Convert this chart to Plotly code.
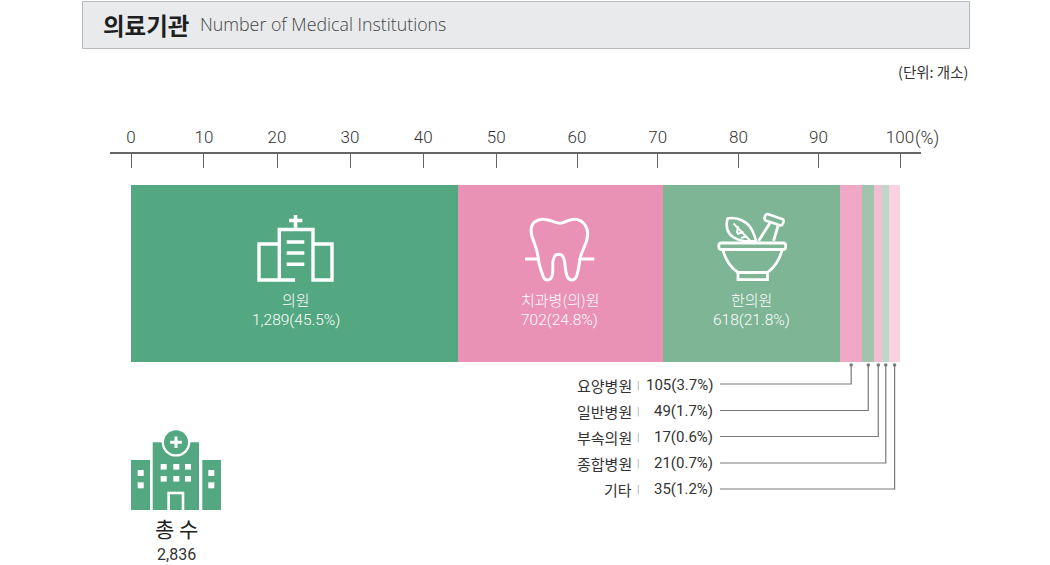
import plotly.graph_objects as go

# ---- data ----
SEGMENT_NAMES = ["의원", "치과병(의)원", "한의원", "요양병원", "일반병원", "부속의원", "종합병원", "기타"]
COUNTS = [1289, 702, 618, 105, 49, 17, 21, 35]
SHARES = [45.5, 24.8, 21.8, 3.7, 1.7, 0.6, 0.7, 1.2]
# drawn bar lengths as they sit against the printed scale (the source figure is not to scale)
DRAWN_LENGTHS = [42.5, 26.7, 23.0, 2.9, 1.55, 1.05, 0.9, 1.4]
SEGMENT_COLORS = ["#54A881", "#E992B5", "#7DB595", "#EFA8C5", "#A1C5AC", "#F3BDD3", "#BFD7C8", "#F8D2E1"]
TICK_LABELS = ["0", "10", "20", "30", "40", "50", "60", "70", "80", "90", "100"]
TICK_POSITIONS = [0, 9.49, 18.99, 28.48, 38.0, 47.5, 58.0, 68.5, 79.0, 89.4, 100]
TOTAL = "2,836"

W, H = 1050, 565
KR = "Noto Sans CJK KR"
NUM = "Roboto, Noto Sans CJK KR"
PX_PER_UNIT = 7.69
X0 = 131
AX_L, AX_R, AX_Y = 110, 921, 154
BAR_TOP, BAR_BOT = 185, 362


def unit(px):
    return (px - X0) / PX_PER_UNIT


fig = go.Figure()
for name, cnt, share, length, col in zip(SEGMENT_NAMES, COUNTS, SHARES, DRAWN_LENGTHS, SEGMENT_COLORS):
    fig.add_trace(go.Bar(
        x=[length], y=[(BAR_TOP + BAR_BOT) / 2 - AX_Y], width=[BAR_BOT - BAR_TOP], orientation="h",
        marker=dict(color=col, line=dict(width=0)), name=name,
        hovertemplate=f"{name}: {cnt:,} ({share}%)<extra></extra>",
    ))

# leader lines from the small segments to their labels
LEADER_Y = [384, 410.5, 436.5, 463, 489]
cum = 0
mids = []
for l in DRAWN_LENGTHS:
    mids.append(cum + l / 2)
    cum += l
for mid, ly in zip(mids[3:], LEADER_Y):
    fig.add_trace(go.Scatter(
        x=[mid, mid, unit(720)], y=[BAR_BOT + 3 - AX_Y, ly - AX_Y, ly - AX_Y], mode="lines",
        line=dict(color="#7A7A7A", width=1.2), hoverinfo="skip", showlegend=False, cliponaxis=False))
    fig.add_trace(go.Scatter(
        x=[mid], y=[BAR_BOT + 3 - AX_Y], mode="markers", marker=dict(color="#7A7A7A", size=3.5),
        hoverinfo="skip", showlegend=False, cliponaxis=False))

# invisible trace that activates a pixel-space layer for page furniture
fig.add_trace(go.Scatter(x=[0], y=[0], xaxis="x2", yaxis="y2", mode="markers", opacity=0,
                         hoverinfo="skip", showlegend=False))


def note(px, py, text, size=14, color="#333333", anchor="center", family=NUM, weight=None):
    fig.add_annotation(xref="x2", yref="y2", x=px, y=py, text=text, showarrow=False, xanchor=anchor,
                       yanchor="middle", font=dict(family=family, size=size, color=color, weight=weight))


note(100.5, 24.5, "의료기관", 23.5, "#1E1E1E", "left", KR, 700)
note(197.5, 24, "Number of Medical Institutions", 17.8, "#444444", "left", "Open Sans", 300)
note(970, 71, "(단위: 개소)", 14.5, "#333333", "right", KR, 400)
note(912.5, 138.5, "(%)", 17.5, "#333333", "left", NUM, 300)

for cx, i in [(296, 0), (559.5, 1), (751.5, 2)]:
    note(cx, 299.5, SEGMENT_NAMES[i], 15, "#FFFFFF", "center", KR, 300)
    note(cx, 320, f"{COUNTS[i]:,}({SHARES[i]}%)", 15.5, "#FFFFFF", "center", NUM, 300)

LABEL_Y = [385, 411, 437, 463, 489]
for i, ly in zip(range(3, 8), LABEL_Y):
    note(633.5, ly, SEGMENT_NAMES[i], 15, "#333333", "right", KR, 400)
    note(638, ly, "|", 11, "#888888", "center", NUM, 300)
    note(715, ly, f"{COUNTS[i]}({SHARES[i]}%)", 15, "#333333", "right", NUM, 400)

note(176, 528, "총 수", 21, "#222222", "center", KR, 400)
note(176, 554, TOTAL, 16, "#333333", "center", NUM, 400)


def shp(path, fill=None, line=None, w=0, layer="above"):
    fig.add_shape(type="path", path=path, xref="x2", yref="y2", layer=layer,
                  fillcolor=fill if fill else "rgba(0,0,0,0)",
                  line=dict(color=line if line else "rgba(0,0,0,0)", width=w))


def disc(cx, cy, r, fill):
    fig.add_shape(type="circle", xref="x2", yref="y2", x0=cx - r, x1=cx + r, y0=cy - r, y1=cy + r,
                  fillcolor=fill, line=dict(width=0), layer="above")


def square(x, y, w, h, fill):
    shp(f"M{x} {y} L{x + w} {y} L{x + w} {y + h} L{x} {y + h} Z", fill)


# header band
fig.add_shape(type="rect", xref="x2", yref="y2", x0=82.5, x1=969.5, y0=1.5, y1=48.5, fillcolor="#E9EAEC",
              line=dict(color="#B5B8BE", width=1), layer="below")

WHITE = "#FFFFFF"
# clinic icon
shp("M295 280 L259 280 L259 244 L279.3 244 M279.3 280 L279.3 229.5 L313 229.5 L313 280 L332 280 L332 244 L313 244", None, WHITE, 3.4)
shp("M295.5 227.7 L295.5 215 M289 220.5 L302.3 220.5", None, WHITE, 3.6)
shp("M286.7 242 L304.3 242 M286.7 253 L304.3 253 M286.7 264.3 L304.3 264.3", None, WHITE, 3.4)

# tooth icon
shp("M525 259 L538.3 259 C538 252 535 245 532.5 238 C530 231 531 224 535 221.7 C540 218 546 219 551.7 221 "
    "C555 222.5 558 223.3 560 223.3 C564 223.3 567 220.5 570 220 C575 218.5 582 219 586 226.7 C589 232 587.5 240 585 245 "
    "C583 250 581 254 580 259 L594.3 259", None, WHITE, 3)
shp("M538.3 259 C539 265 541 270 543.3 276.7 C545 281 551 281.5 552.3 275 C553.5 268 552 262 553.3 260 "
    "C554 256 556 254.3 558.3 254.3 C561 254.3 563.5 256 564.3 260 C565.5 266 565 270 566.7 275 "
    "C568.5 281.5 574.5 281.5 576.7 275.7 C578.5 270 579 265 580 259", None, WHITE, 3)

# herbal bowl icon
shp("M721 243 L783.5 243 C786.5 243 786.5 249.5 783.5 249.5 L721 249.5 C718 249.5 718 243 721 243 Z", None, WHITE, 2.8)
shp("M723 250 C725 259 731 268 738 272.5 L767.5 272.5 C774 268 780 259 782 250", None, WHITE, 2.8)
shp("M738 272.5 L738 279.7 L767.5 279.7 L767.5 272.5", None, WHITE, 2.8)
shp("M727.5 218.5 C738 216.5 748 222 752 230 C754 234 755.5 238 756 241 C748 242 739 241 733 237 C727.5 233 725.5 226 727.5 218.5 Z", None, WHITE, 2.6)
shp("M733.5 223.5 L750 240.5 M738 226 L737 233 M743.5 232 L737 234 M746 236.5 L741 238", None, WHITE, 2)
shp("M758.5 241 L770 223 M773.5 241 L778 226", None, WHITE, 2.8)
shp("M767.5 214 L783 219.3 C784.5 220.5 783 225.5 780.5 225.5 L765.5 220.5 C763.5 219 765 214 767.5 214 Z", None, WHITE, 2.6)

# total icon
G = "#54A881"
square(131, 460, 19, 50, G)
square(202.3, 460, 18.7, 50, G)
square(152.7, 442.3, 46.3, 67.7, G)
disc(176, 442.3, 14.3, WHITE)
disc(176, 442.3, 12, G)
shp("M174.5 436.5 L177.5 436.5 L177.5 440.8 L181.8 440.8 L181.8 443.8 L177.5 443.8 L177.5 448 L174.5 448 "
    "L174.5 443.8 L170.2 443.8 L170.2 440.8 L174.5 440.8 Z", WHITE)
square(167.3, 491.7, 17, 18.3, WHITE)
square(170, 494.3, 11.7, 15.7, G)
for cx in [137.7, 208.3]:
    for cy in [470, 482.3]:
        square(cx, cy, 6, 6, WHITE)
for cx in [160.7, 173.3, 185]:
    for cy in [464, 476]:
        square(cx, cy, 6, 5.6, WHITE)

fig.update_layout(
    width=W, height=H, margin=dict(l=0, r=0, t=0, b=0), barmode="stack", showlegend=False,
    paper_bgcolor="white", plot_bgcolor="rgba(0,0,0,0)",
    xaxis=dict(domain=[AX_L / W, AX_R / W], range=[unit(AX_L), unit(AX_R)], side="top",
               tickmode="array", tickvals=TICK_POSITIONS, ticktext=TICK_LABELS, ticks="inside", ticklen=14,
               tickcolor="#666666", tickwidth=1.2, showline=True, linecolor="#666666", linewidth=1.5,
               showgrid=False, zeroline=False, tickfont=dict(family=NUM, size=17, color="#333333", weight=300),
               ticklabelstandoff=2, anchor="y", fixedrange=True),
    yaxis=dict(domain=[0, (H - AX_Y) / H], range=[H - AX_Y, 0], visible=False, fixedrange=True),
    xaxis2=dict(domain=[0, 1], range=[0, W], visible=False, anchor="y2", fixedrange=True),
    yaxis2=dict(domain=[0, 1], range=[H, 0], visible=False, anchor="x2", fixedrange=True),
)

fig.write_html("out.html", config={"displayModeBar": False},
               post_script="document.body.style.margin='0';")
